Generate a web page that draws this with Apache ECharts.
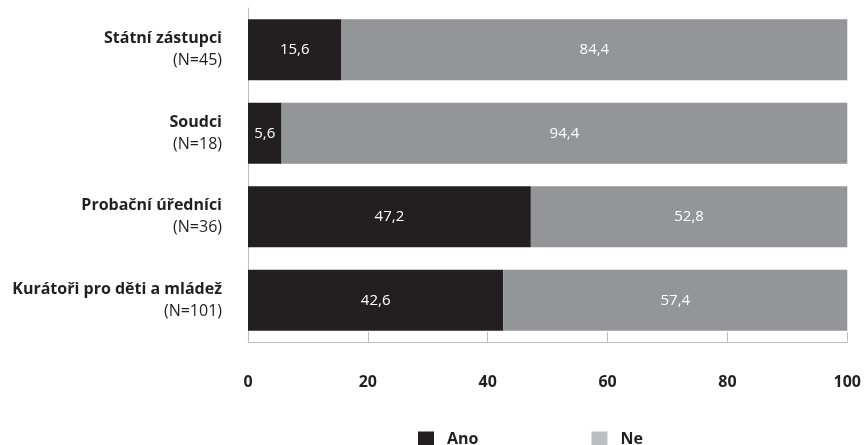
<!DOCTYPE html>
<html>
<head>
<meta charset="utf-8">
<script src="https://cdn.jsdelivr.net/npm/echarts@6/dist/echarts.min.js"></script>
<style>html,body{margin:0;padding:0;background:#fff}#c{width:864px;height:445px}</style>
</head>
<body>
<div id="c"></div>
<script>
const categories = ['Státní zástupci', 'Soudci', 'Probační úředníci', 'Kurátoři pro děti a mládež'];
const counts = ['(N=45)', '(N=18)', '(N=36)', '(N=101)'];
const ano = [15.6, 5.6, 47.2, 42.6];
const ne = [84.4, 94.4, 52.8, 57.4];
const seriesNames = ['Ano', 'Ne'];
const xTicks = [0, 20, 40, 60, 80, 100];

const FONT = '"Open Sans", "Noto Sans", sans-serif';
const chart = echarts.init(document.getElementById('c'));
const fmt = p => String(p.value).replace('.', ',');
chart.setOption({
  animation: false,
  textStyle: { fontFamily: FONT },
  grid: { left: 248, right: 16, top: 8, bottom: 103, containLabel: false },
  legend: {
    top: 431, left: 418, itemWidth: 16, itemHeight: 15, itemGap: 113,
    padding: 0, icon: 'rect',
    textStyle: { fontFamily: FONT, fontWeight: 'bold', fontSize: 16, color: '#231f20', padding: [0, 0, 0, 8] },
    data: [
      { name: seriesNames[0], itemStyle: { color: '#231f20' } },
      { name: seriesNames[1], itemStyle: { color: '#bcbec0' } }
    ]
  },
  xAxis: {
    type: 'value', min: xTicks[0], max: xTicks[xTicks.length - 1], interval: 20,
    axisLine: { show: true, lineStyle: { color: '#bcbec0', width: 1 } },
    axisTick: { show: true, inside: true, length: 10, lineStyle: { color: '#bcbec0' } },
    splitLine: { show: false },
    axisLabel: { margin: 32, fontFamily: FONT, fontWeight: 'bold', fontSize: 16, color: '#231f20' }
  },
  yAxis: {
    type: 'category', inverse: true, data: categories,
    axisLine: { show: true, lineStyle: { color: '#bcbec0', width: 1 } },
    axisTick: { show: false },
    axisLabel: {
      margin: 26, align: 'right',
      formatter: (v, i) => '{b|' + v + '}\n{n|' + counts[i] + '}',
      rich: {
        b: { fontFamily: FONT, fontWeight: 'bold', fontSize: 16, color: '#231f20', lineHeight: 22, align: 'right' },
        n: { fontFamily: FONT, fontSize: 16, color: '#231f20', lineHeight: 22, align: 'right' }
      }
    }
  },
  series: [
    {
      name: seriesNames[0], type: 'bar', stack: 'a', data: ano, barCategoryGap: '27%',
      itemStyle: { color: '#231f20' },
      label: { show: true, position: 'inside', color: '#fff', fontSize: 15, fontFamily: FONT, formatter: fmt }
    },
    {
      name: seriesNames[1], type: 'bar', stack: 'a', data: ne, barCategoryGap: '27%',
      itemStyle: { color: '#939598' },
      label: { show: true, position: 'inside', color: '#fff', fontSize: 15, fontFamily: FONT, formatter: fmt }
    }
  ]
});
</script>
</body>
</html>
